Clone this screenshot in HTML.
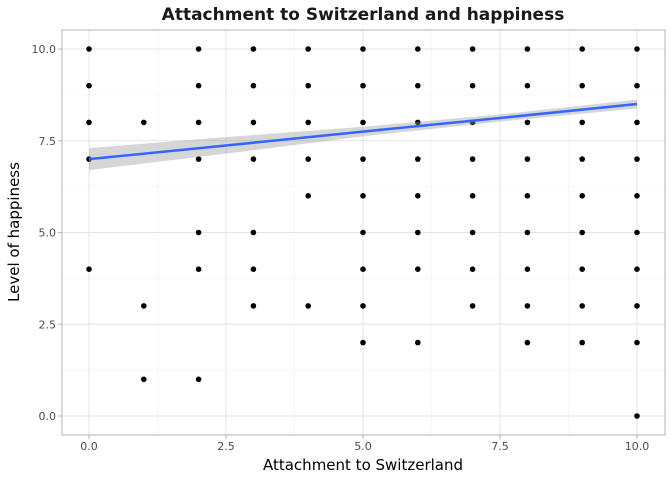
<!DOCTYPE html>
<html><head><meta charset="utf-8"><style>
body{margin:0;background:#fff;font-family:"DejaVu Sans","Liberation Sans",sans-serif}
</style></head><body>
<svg id="chart" width="672" height="480" xmlns="http://www.w3.org/2000/svg" font-family="DejaVu Sans, Liberation Sans, sans-serif"></svg>
<script>
const xTicks=[0,2.5,5,7.5,10];
const yTicks=[0,2.5,5,7.5,10];
const xTickLabels=["0.0","2.5","5.0","7.5","10.0"];
const yTickLabels=["0.0","2.5","5.0","7.5","10.0"];
const pointX=[0,0,0,0,0, 1,1,1, 2,2,2,2,2,2,2, 3,3,3,3,3,3,3, 4,4,4,4,4,4, 5,5,5,5,5,5,5,5,5, 6,6,6,6,6,6,6,6, 7,7,7,7,7,7,7,7, 8,8,8,8,8,8,8,8,8, 9,9,9,9,9,9,9,9,9, 10,10,10,10,10,10,10,10,10,10];
const pointY=[10,9,8,7,4, 8,3,1, 10,9,8,7,5,4,1, 10,9,8,7,5,4,3, 10,9,8,7,6,3, 10,9,8,7,6,5,4,3,2, 10,9,8,7,6,5,4,2, 10,9,8,7,6,5,4,3, 10,9,8,7,6,5,4,3,2, 10,9,8,7,6,5,4,3,2, 10,9,8,7,6,5,4,3,2,0];
const fitX=[0,2.5,5,7.5,10];
const fitY=[7.0,7.37,7.75,8.12,8.5];
const fitLo=[6.7,7.15,7.62,8.02,8.38];
const fitHi=[7.3,7.6,7.88,8.22,8.62];

const NS="http://www.w3.org/2000/svg";
const svg=document.getElementById('chart');
const L=62,R=665,T=30,B=435;
const xs=v=>89+v*54.8;
const ys=v=>416-v*36.7;
function el(tag,attrs,parent){const e=document.createElementNS(NS,tag);for(const k in attrs)e.setAttribute(k,attrs[k]);(parent||svg).appendChild(e);return e;}

const panel=el('rect',{x:L,y:T,width:R-L,height:B-T,fill:'#fff'});


for(let i=0;i<xTicks.length-1;i++){const m=(xTicks[i]+xTicks[i+1])/2;const g=el('line',{x1:xs(m),x2:xs(m),y1:T,y2:B,stroke:'#f2f2f2','stroke-width':0.6});}
for(let i=0;i<yTicks.length-1;i++){const m=(yTicks[i]+yTicks[i+1])/2;const g=el('line',{x1:L,x2:R,y1:ys(m),y2:ys(m),stroke:'#f2f2f2','stroke-width':0.6});}
xTicks.forEach((t,i)=>{
 const g=el('line',{x1:xs(t),x2:xs(t),y1:T,y2:B,stroke:'#e4e4e4','stroke-width':1});
 
 el('line',{x1:xs(t),x2:xs(t),y1:B,y2:B+4,stroke:'#b3b3b3'});
 const tx=el('text',{x:xs(t),y:B+15,'font-size':11,fill:'#4d4d4d','text-anchor':'middle'});tx.textContent=xTickLabels[i];
 
});
yTicks.forEach((t,i)=>{
 const g=el('line',{x1:L,x2:R,y1:ys(t),y2:ys(t),stroke:'#e4e4e4','stroke-width':1});
 
 el('line',{x1:L-4,x2:L,y1:ys(t),y2:ys(t),stroke:'#b3b3b3'});
 const tx=el('text',{x:L-6,y:ys(t)+4,'font-size':11,fill:'#4d4d4d','text-anchor':'end'});tx.textContent=yTickLabels[i];
 
});
pointX.forEach((x,i)=>{
 const c=el('circle',{cx:xs(x),cy:ys(pointY[i]),r:2.8,fill:'#000'});
 
});
let d='';fitX.forEach((x,i)=>{d+=(i?'L':'M')+xs(x)+','+ys(fitHi[i]);});
for(let i=fitX.length-1;i>=0;i--)d+='L'+xs(fitX[i])+','+ys(fitLo[i]);
const rib=el('path',{d:d+'Z',fill:'#999',opacity:0.4});

const pts=fitX.map((x,i)=>xs(x)+','+ys(fitY[i])).join(' ');
const ln=el('polyline',{points:pts,fill:'none',stroke:'#3366ff','stroke-width':2.5});

const bd=el('rect',{x:L,y:T,width:R-L,height:B-T,fill:'none',stroke:'#b3b3b3','stroke-width':1});

const ti=el('text',{x:363,y:20,'font-size':17,'font-weight':'bold','text-anchor':'middle',fill:'#1a1a1a'});ti.textContent='Attachment to Switzerland and happiness';

const xt=el('text',{x:363,y:470,'font-size':15,'text-anchor':'middle',fill:'#000'});xt.textContent='Attachment to Switzerland';

const yt=el('text',{x:0,y:0,'font-size':15,'text-anchor':'middle',fill:'#000',transform:'translate(19,232) rotate(-90)'});yt.textContent='Level of happiness';

</script>
</body></html>
